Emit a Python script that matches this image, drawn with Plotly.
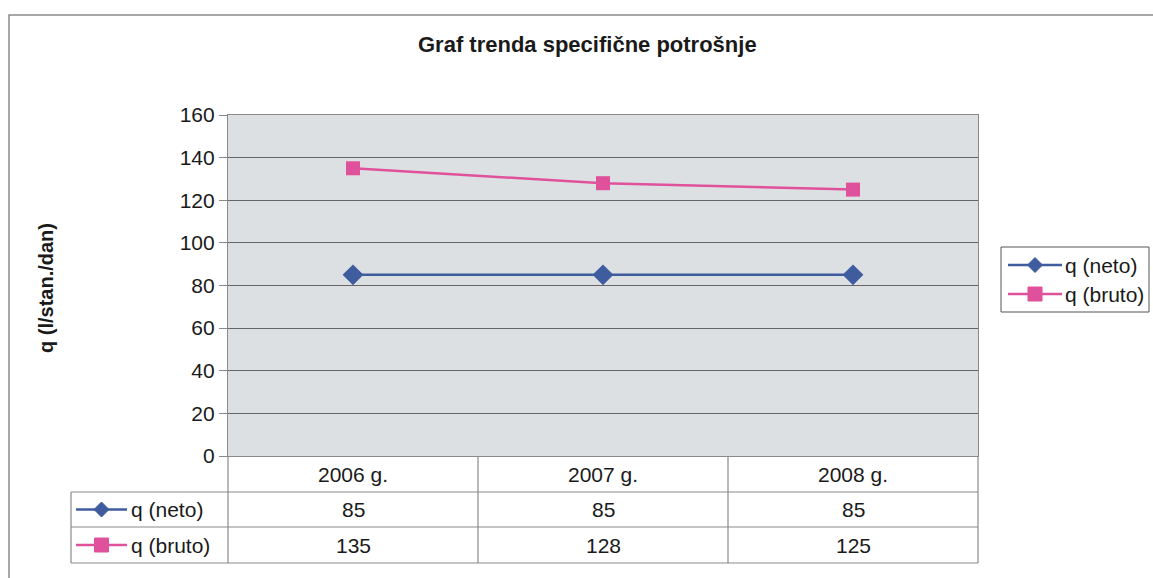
import plotly.graph_objects as go

# Data
years = ["2006 g.", "2007 g.", "2008 g."]
q_neto = [85, 85, 85]
q_bruto = [135, 128, 125]
y_ticks = [0, 20, 40, 60, 80, 100, 120, 140, 160]
series_names = ["q (neto)", "q (bruto)"]

W, H = 1153, 578
NETO = "#3f5c9e"
BRUTO = "#e0519b"
GRID = "#666666"
FRAME = "#8a8a8a"
INK = "#1a1a1a"
FONT = "Liberation Sans, Arial, sans-serif"


def px(x):
    return x / W


def py(y):
    return 1 - y / H


# plot area in pixels
L, R, T, B = 228, 978, 115, 456
ROWS = [456, 492, 527, 563]  # table row boundaries
TABLE_LEFT = 71

fig = go.Figure()
fig.add_trace(go.Scatter(
    x=years, y=q_neto, name=series_names[0], mode="lines+markers",
    line=dict(color=NETO, width=2.5),
    marker=dict(symbol="diamond", size=16, color=NETO),
))
fig.add_trace(go.Scatter(
    x=years, y=q_bruto, name=series_names[1], mode="lines+markers",
    line=dict(color=BRUTO, width=2.5),
    marker=dict(symbol="square", size=14, color=BRUTO),
))

shapes = []
annotations = []
txt = dict(family=FONT, size=21, color=INK)

# outer chart border
shapes.append(dict(type="rect", xref="paper", yref="paper",
                   x0=px(9), x1=px(1170), y0=py(600), y1=py(15),
                   line=dict(color="#8c8c8c", width=1.5)))
# plot area fill (below gridlines)
shapes.append(dict(type="rect", xref="x domain", yref="y domain",
                   x0=0, x1=1, y0=0, y1=1, layer="below",
                   fillcolor="#dde0e3", line=dict(width=0)))

# data table grid
line_style = dict(color=FRAME, width=1.2)
for yy in ROWS[1:]:
    shapes.append(dict(type="line", xref="paper", yref="paper",
                       x0=px(TABLE_LEFT), x1=px(R), y0=py(yy), y1=py(yy),
                       line=line_style))
for xx in [L, 478, 728, R]:
    shapes.append(dict(type="line", xref="paper", yref="paper",
                       x0=px(xx), x1=px(xx), y0=py(B), y1=py(ROWS[-1]),
                       line=line_style))
shapes.append(dict(type="line", xref="paper", yref="paper",
                   x0=px(TABLE_LEFT), x1=px(TABLE_LEFT),
                   y0=py(ROWS[1]), y1=py(ROWS[-1]), line=line_style))


def legend_key(x0, x1, yc, color, symbol, label, text_x):
    """Line-with-marker key followed by its series label."""
    shapes.append(dict(type="line", xref="paper", yref="paper",
                       x0=px(x0), x1=px(x1), y0=py(yc), y1=py(yc),
                       line=dict(color=color, width=2.5)))
    cx = (x0 + x1) / 2
    if symbol == "diamond":
        d = 7.5
        shapes.append(dict(
            type="path", xref="paper", yref="paper",
            path=(f"M {px(cx - d)} {py(yc)} L {px(cx)} {py(yc - d)} "
                  f"L {px(cx + d)} {py(yc)} L {px(cx)} {py(yc + d)} Z"),
            fillcolor=color, line=dict(color=color, width=1)))
    else:
        s = 7
        shapes.append(dict(type="rect", xref="paper", yref="paper",
                           x0=px(cx - s), x1=px(cx + s),
                           y0=py(yc + s), y1=py(yc - s),
                           fillcolor=color, line=dict(color=color, width=1)))
    annotations.append(dict(x=px(text_x), y=py(yc), xref="paper",
                            yref="paper", xanchor="left", yanchor="middle",
                            text=label, showarrow=False, font=txt))


# keys in the table's first column
neto_y = (ROWS[1] + ROWS[2]) / 2
bruto_y = (ROWS[2] + ROWS[3]) / 2
legend_key(76, 127, neto_y, NETO, "diamond", series_names[0], 129)
legend_key(76, 127, bruto_y, BRUTO, "square", series_names[1], 129)

# side legend box
shapes.append(dict(type="rect", xref="paper", yref="paper",
                   x0=px(1001), x1=px(1149), y0=py(312), y1=py(247),
                   fillcolor="white", line=dict(color="#555", width=1)))
legend_key(1008, 1062, 265, NETO, "diamond", series_names[0], 1063)
legend_key(1008, 1062, 294, BRUTO, "square", series_names[1], 1063)

# table cell values
for yr, n, b in zip(years, q_neto, q_bruto):
    annotations.append(dict(x=yr, xref="x", y=py((ROWS[0] + ROWS[1]) / 2),
                            yref="paper", yanchor="middle", text=yr,
                            showarrow=False, font=txt))
    annotations.append(dict(x=yr, xref="x", y=py(neto_y), yref="paper",
                            yanchor="middle", text=str(n),
                            showarrow=False, font=txt))
    annotations.append(dict(x=yr, xref="x", y=py(bruto_y), yref="paper",
                            yanchor="middle", text=str(b),
                            showarrow=False, font=txt))

# axis title
annotations.append(dict(x=px(46), y=py(288), xref="paper", yref="paper",
                        xanchor="center", yanchor="middle",
                        text="<b>q (l/stan./dan)</b>", textangle=-90,
                        showarrow=False,
                        font=dict(family=FONT, size=20, color=INK)))
# chart title
annotations.append(dict(x=px(587), y=py(44), xref="paper", yref="paper",
                        xanchor="center", yanchor="middle",
                        text="<b>Graf trenda specifične potrošnje</b>",
                        showarrow=False,
                        font=dict(family=FONT, size=22, color=INK)))

fig.update_layout(
    width=W, height=H,
    margin=dict(l=0, r=0, t=0, b=0, autoexpand=False),
    paper_bgcolor="white",
    plot_bgcolor="rgba(0,0,0,0)",
    font=dict(family=FONT, size=21, color=INK),
    shapes=shapes,
    annotations=annotations,
    showlegend=False,
    xaxis=dict(domain=[px(L), px(R)], type="category", automargin=False,
               range=[-0.5, len(years) - 0.5], showticklabels=False,
               showgrid=False, zeroline=False, ticks="",
               showline=True, linecolor=FRAME, linewidth=1.2, mirror=True),
    yaxis=dict(domain=[py(B), py(T)], range=[0, 160], tickvals=y_ticks,
               automargin=False,
               showgrid=True, gridcolor=GRID, gridwidth=1, zeroline=False,
               ticks="outside", ticklen=8, tickcolor=FRAME,
               showline=True, linecolor=FRAME, linewidth=1.2, mirror=True,
               tickfont=dict(family=FONT, size=21, color=INK)),
)

fig.write_html("out.html")
